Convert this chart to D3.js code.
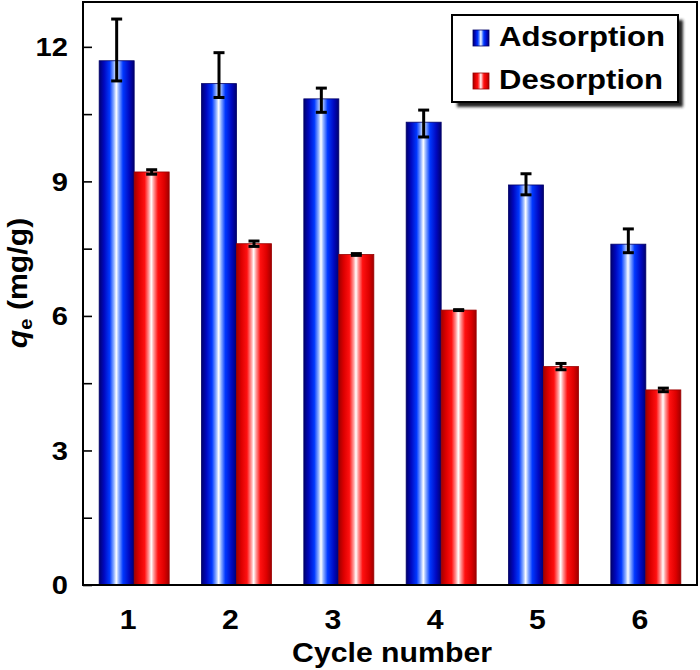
<!DOCTYPE html>
<html><head><meta charset="utf-8">
<script src="https://cdn.jsdelivr.net/npm/d3@7"></script>
<style>body{margin:0;background:#fff}svg{display:block;font-family:"Liberation Sans",Arial,sans-serif}</style>
</head><body><div id="chart"></div>
<script>
const categories = ["1","2","3","4","5","6"];
const adsorption = [11.69, 11.18, 10.84, 10.32, 8.92, 7.60];
const adsErrPlus = [0.93, 0.69, 0.24, 0.27, 0.25, 0.34];
const adsErrMinus = [0.45, 0.31, 0.30, 0.33, 0.22, 0.19];
const desorption = [9.21, 7.61, 7.37, 6.13, 4.87, 4.35];
const desErr = [0.05, 0.06, 0.02, 0.01, 0.07, 0.04];
const yMajorTicks = [0, 3, 6, 9, 12];
const yMinorTicks = [1.5, 4.5, 7.5, 10.5];
const seriesNames = ["Adsorption", "Desorption"];

const W = 700, H = 670;
const m = {left: 83, right: 3, top: 2, bottom: 85};
const svg = d3.select("#chart").append("svg").attr("width", W).attr("height", H);
const defs = svg.append("defs");

function grad(id, edge, mid, bright, light) {
  const g = defs.append("linearGradient").attr("id", id).attr("x1", 0).attr("x2", 1).attr("y1", 0).attr("y2", 0);
  [[0, edge], [0.14, mid], [0.3, bright], [0.42, light], [0.49, "#ffffff"], [0.56, light], [0.68, bright], [0.86, mid], [1, edge]]
    .forEach(([o, c]) => g.append("stop").attr("offset", o).attr("stop-color", c));
}
grad("gBlue", "#000070", "#0008c0", "#0038ff", "#8fb0ff");
grad("gRed", "#a00000", "#dd0000", "#ff1010", "#ff9a9a");
const f = defs.append("filter").attr("id", "shadow").attr("x", "-10%").attr("y", "-10%").attr("width", "130%").attr("height", "140%");
f.append("feGaussianBlur").attr("stdDeviation", 1.8);

const x = d3.scaleBand().domain(categories).range([m.left, W - m.right]).padding(0);
const y = d3.scaleLinear().domain([0, 13]).range([H - m.bottom, m.top]);
const bw = 35;

// bars
const groups = svg.append("g");
categories.forEach((c, i) => {
  const cx = x(c) + x.bandwidth() / 2;
  groups.append("rect").attr("x", cx - bw).attr("width", bw)
    .attr("y", y(adsorption[i])).attr("height", y(0) - y(adsorption[i]))
    .attr("fill", "url(#gBlue)").attr("stroke", "#000066").attr("stroke-width", 0.8);
  groups.append("rect").attr("x", cx).attr("width", bw)
    .attr("y", y(desorption[i])).attr("height", y(0) - y(desorption[i]))
    .attr("fill", "url(#gRed)").attr("stroke", "#990000").attr("stroke-width", 0.8);
});

// error bars
function errBar(cx, top, bot) {
  const g = svg.append("g").attr("stroke", "#000").attr("stroke-width", 3);
  g.append("line").attr("x1", cx).attr("x2", cx).attr("y1", y(top)).attr("y2", y(bot));
  g.append("line").attr("x1", cx - 5.5).attr("x2", cx + 5.5).attr("y1", y(top)).attr("y2", y(top));
  g.append("line").attr("x1", cx - 5.5).attr("x2", cx + 5.5).attr("y1", y(bot)).attr("y2", y(bot));
}
categories.forEach((c, i) => {
  const cx = x(c) + x.bandwidth() / 2;
  errBar(cx - bw / 2, adsorption[i] + adsErrPlus[i], adsorption[i] - adsErrMinus[i]);
  errBar(cx + bw / 2, desorption[i] + desErr[i], desorption[i] - desErr[i]);
});

// frame
svg.append("rect").attr("x", m.left).attr("y", m.top)
  .attr("width", W - m.left - m.right).attr("height", H - m.top - m.bottom)
  .attr("fill", "none").attr("stroke", "#000").attr("stroke-width", 2);

// y ticks (inward)
const yAx = svg.append("g").attr("transform", `translate(${m.left},0)`);
yAx.call(d3.axisRight(y).tickValues(yMajorTicks.concat(yMinorTicks)).tickSize(9).tickFormat(""))
  .call(g => g.select(".domain").remove())
  .call(g => g.selectAll("line").attr("stroke-width", 1.6));
yMajorTicks.forEach(v => {
  svg.append("text").attr("transform", `translate(68,${y(v)}) scale(1.12,1)`)
    .attr("dy", "0.36em").attr("text-anchor", "end")
    .attr("font-size", 26).attr("font-weight", "bold").text(v);
});

// x labels
categories.forEach(c => {
  const cx = x(c) + x.bandwidth() / 2 - 6;
  svg.append("text").attr("transform", `translate(${cx},629) scale(1.12,1)`)
    .attr("text-anchor", "middle").attr("font-size", 27).attr("font-weight", "bold").text(c);
});

// axis titles
svg.append("text").attr("transform", `translate(392,662) scale(1.12,1)`)
  .attr("text-anchor", "middle").attr("font-size", 27).attr("font-weight", "bold").text("Cycle number");
const yl = svg.append("text").attr("transform", `translate(27,283) rotate(-90) scale(1.12,1)`)
  .attr("text-anchor", "middle").attr("font-size", 27).attr("font-weight", "bold");
yl.append("tspan").attr("font-style", "italic").text("q");
yl.append("tspan").attr("font-size", 18).attr("font-style", "normal").attr("dy", 5).text("e");
yl.append("tspan").attr("dy", -5).text(" (mg/g)");

// legend
const lg = svg.append("g");
lg.append("rect").attr("x", 457).attr("y", 20).attr("width", 226).attr("height", 87)
  .attr("fill", "#222").attr("filter", "url(#shadow)");
lg.append("rect").attr("x", 452).attr("y", 15).attr("width", 226).attr("height", 87)
  .attr("fill", "#fff").attr("stroke", "#000").attr("stroke-width", 2);
const legY = [30, 73];
const fills = ["url(#gBlue)", "url(#gRed)"];
const strokes = ["#000066", "#990000"];
seriesNames.forEach((s, i) => {
  lg.append("rect").attr("x", 473).attr("y", legY[i]).attr("width", 16).attr("height", 16)
    .attr("fill", fills[i]).attr("stroke", strokes[i]).attr("stroke-width", 0.8);
  lg.append("text").attr("x", 499).attr("y", legY[i] + 16).attr("font-size", 28).attr("font-weight", "bold")
    .attr("textLength", i === 0 ? 166 : 164).attr("lengthAdjust", "spacingAndGlyphs").text(s);
});
</script></body></html>
